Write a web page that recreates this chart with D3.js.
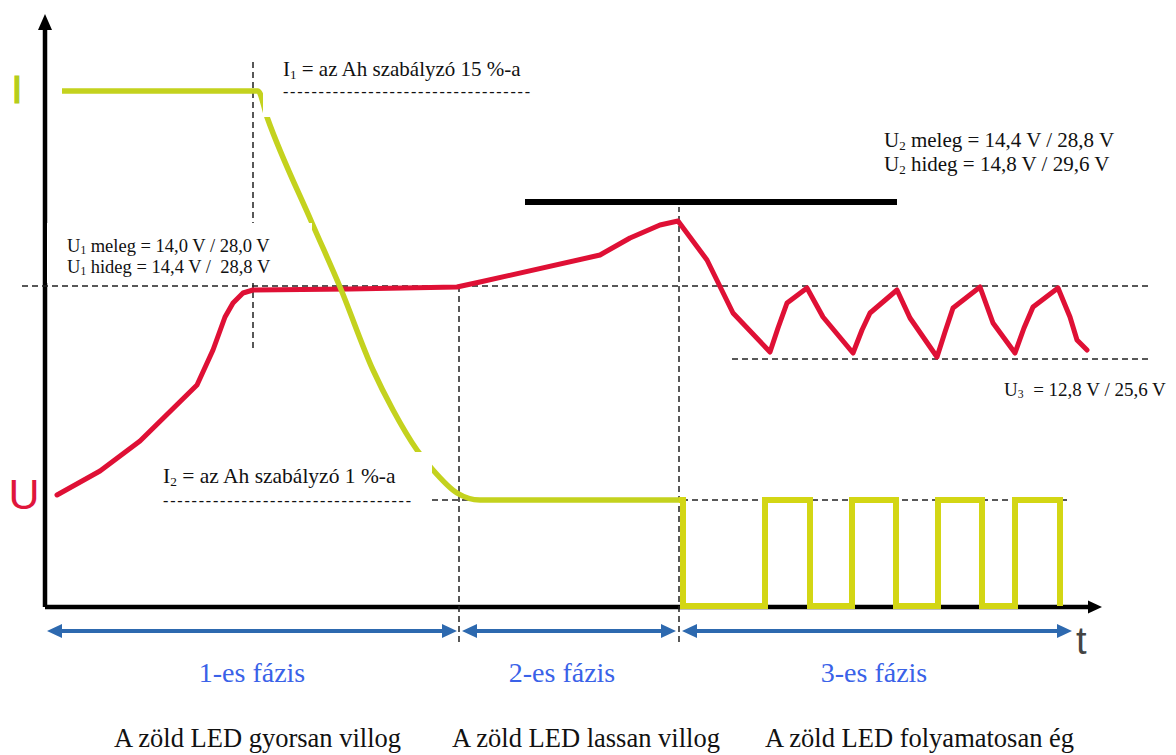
<!DOCTYPE html>
<html>
<head>
<meta charset="utf-8">
<script src="https://cdn.jsdelivr.net/npm/d3@7"></script>
<style>
  body { margin: 0; background: #fff; }
  svg { display: block; }
</style>
</head>
<body>
<div class="chart"></div>
<script>
// time and level are in arbitrary units (the chart has no ticks)
const uTime  = [3, 13.75, 23.75, 38, 42, 45, 47, 49.5, 52, 76.25, 103, 108.75, 138.75, 146.25, 153.75, 158.25,
                165.5, 172, 181.25, 183.25, 185.5, 190.5, 194.5, 202, 204.25, 206.25, 213, 216.25,
                223, 225, 227, 233.75, 237, 242.5, 244.75, 247, 253.25, 256.25, 258, 260.5];
const uLevel = [28, 34, 41.5, 55.5, 64.25, 72.5, 76, 78.5, 79.25, 79.5, 80, 81.25, 88, 92.25, 95.5, 96.5,
                86.75, 73.5, 63.75, 69.75, 76, 79.75, 72.5, 63.5, 69.25, 73.5, 79.25, 72.25,
                62.5, 68.75, 74.75, 80, 71, 63.5, 69.75, 75, 79.75, 72.5, 66.75, 64.25];

const iTime  = [4.25, 53.25, 55.5, 66.75, 73.75, 82, 87, 93, 97, 103, 108.75, 158.5];
const iLevel = [129, 129, 122.5, 96, 80, 59.25, 49.25, 39.25, 34.25, 28.5, 26.75, 26.75];

const pulseTime  = [158.5, 159.5, 180, 191.25, 201.75, 212.75, 223.25, 234.25, 242.5, 253.75];
const pulseLevel = [26.75, 0.25, 26.75, 0.25, 26.75, 0.25, 26.75, 0.25, 26.75, 0.25];

// reference levels
const levelU1 = 80.25, levelU2 = 101.25, levelU3 = 62, levelI2 = 26.75;

const phaseStart  = [0.5, 104.25, 159.25];
const phaseEnd    = [103, 157.75, 256.75];
const phaseCenter = [51.75, 129.25, 207.25];
const phaseNames  = ["1-es fázis", "2-es fázis", "3-es fázis"];
const ledStart    = [17.25, 101.75, 180];
const ledTexts    = ["A zöld LED gyorsan villog", "A zöld LED lassan villog", "A zöld LED folyamatosan ég"];

const width = 1176, height = 755;
const serif = "'Liberation Serif', 'Times New Roman', serif";
const sans = "'Liberation Sans', Arial, sans-serif";

const x = d3.scaleLinear().domain([0, 264]).range([45, 1101]);
const y = d3.scaleLinear().domain([0, 150]).range([607, 7]);

const svg = d3.select(".chart").append("svg")
    .attr("width", width)
    .attr("height", height);

const line = d3.line().x(d => x(d[0])).y(d => y(d[1]));

// axes with arrow heads
const xTip = 264.25, yTip = 148.25;
svg.append("path")
    .attr("d", line([[0, 0], [xTip - 3.5, 0]]))
    .attr("stroke", "#000").attr("stroke-width", 4.5).attr("fill", "none");
svg.append("path")
    .attr("d", `M${x(xTip)},${y(0)}L${x(xTip) - 14},${y(0) - 6.5}L${x(xTip) - 14},${y(0) + 6.5}Z`)
    .attr("fill", "#000");
svg.append("path")
    .attr("d", line([[0, 0], [0, yTip - 4]]))
    .attr("stroke", "#000").attr("stroke-width", 4.5).attr("fill", "none");
svg.append("path")
    .attr("d", `M${x(0)},${y(yTip)}L${x(0) - 7},${y(yTip) + 16}L${x(0) + 7},${y(yTip) + 16}Z`)
    .attr("fill", "#000");

// dashed guide lines
const hGuides = [[levelU1, -5.75, 275.75], [levelU3, 171.75, 275.75], [levelI2, 96.75, 255.5]];
const vGuides = [[52, 64.75, 137.25], [103.5, -8.75, 80.5], [158.5, -8.75, 100]];
svg.selectAll(".hguide").data(hGuides).enter().append("path")
    .attr("class", "hguide")
    .attr("d", d => line([[d[1], d[0]], [d[2], d[0]]]))
    .attr("stroke", "#222").attr("stroke-width", 1.5).attr("stroke-dasharray", "6,4").attr("fill", "none");
svg.selectAll(".vguide").data(vGuides).enter().append("path")
    .attr("class", "vguide")
    .attr("d", d => line([[d[0], d[1]], [d[0], d[2]]]))
    .attr("stroke", "#222").attr("stroke-width", 1.5).attr("stroke-dasharray", "6,4").attr("fill", "none");

// U2 bar
svg.append("path")
    .attr("d", line([[120, levelU2], [213, levelU2]]))
    .attr("stroke", "#000").attr("stroke-width", 6).attr("fill", "none");

// voltage curve
svg.append("path")
    .attr("d", line(uTime.map((t, i) => [t, uLevel[i]])))
    .attr("stroke", "#df1035").attr("stroke-width", 5)
    .attr("stroke-linejoin", "round").attr("stroke-linecap", "round").attr("fill", "none");

// current curve
svg.append("path")
    .attr("d", line.curve(d3.curveMonotoneX)(iTime.map((t, i) => [t, iLevel[i]])))
    .attr("stroke", "#c4d21e").attr("stroke-width", 5.5)
    .attr("stroke-linejoin", "round").attr("fill", "none");

// pulses in phase 3
svg.append("path")
    .attr("d", line.curve(d3.curveStepAfter)(pulseTime.map((t, i) => [t, pulseLevel[i]])))
    .attr("stroke", "#d3d614").attr("stroke-width", 6).attr("fill", "none");
line.curve(d3.curveLinear);

// white boxes behind the notes
const boxes = [[263, 58, 277, 59], [47, 223, 265, 60], [150, 452, 282, 63]];
svg.selectAll(".box").data(boxes).enter().append("rect")
    .attr("class", "box")
    .attr("x", d => d[0]).attr("y", d => d[1])
    .attr("width", d => d[2]).attr("height", d => d[3])
    .attr("fill", "#fff");

// notes with subscripts
function note(px, py, size, main, sub, rest) {
    const t = svg.append("text")
        .attr("x", px).attr("y", py)
        .attr("font-family", serif).attr("font-size", size)
        .attr("fill", "#111")
        .style("white-space", "pre");
    t.append("tspan").text(main);
    t.append("tspan").attr("font-size", size * 0.62).attr("dy", size * 0.12).text(sub);
    t.append("tspan").attr("dy", -size * 0.12).text(rest);
}
function dashes(px, py, w) {
    svg.append("text")
        .attr("x", px).attr("y", py)
        .attr("font-family", serif).attr("font-size", 16)
        .attr("textLength", w).attr("lengthAdjust", "spacing")
        .attr("fill", "#111")
        .text("-".repeat(35));
}

note(283, 76, 21, "I", "1", " = az Ah szabályzó 15 %-a");
dashes(283, 97, 247);
note(67, 252, 18.5, "U", "1", " meleg = 14,0 V / 28,0 V");
note(67, 273, 18.5, "U", "1", " hideg = 14,4 V /  28,8 V");
note(884, 147, 21, "U", "2", " meleg = 14,4 V / 28,8 V");
note(884, 171, 21, "U", "2", " hideg = 14,8 V / 29,6 V");
note(1004, 396, 19, "U", "3", "  = 12,8 V / 25,6 V");
note(163, 483, 21.5, "I", "2", " = az Ah szabályzó 1 %-a");
dashes(163, 506, 248);

// axis letters
svg.append("text")
    .attr("x", 17).attr("y", 103)
    .attr("text-anchor", "middle")
    .attr("font-family", sans).attr("font-size", 39)
    .attr("fill", "#b5cd1c").attr("stroke", "#b5cd1c").attr("stroke-width", 1.2)
    .text("I");
svg.append("text")
    .attr("x", 24).attr("y", 509)
    .attr("text-anchor", "middle")
    .attr("font-family", sans).attr("font-size", 43)
    .attr("fill", "#e0163c")
    .text("U");
svg.append("text")
    .attr("x", 1076).attr("y", 654)
    .attr("font-family", sans).attr("font-size", 38)
    .attr("fill", "#444")
    .text("t");

// phase arrows
const arrowY = y(-6);
phaseStart.forEach((s, i) => {
    const x0 = x(s), x1 = x(phaseEnd[i]);
    svg.append("line")
        .attr("x1", x0 + 12).attr("x2", x1 - 12)
        .attr("y1", arrowY).attr("y2", arrowY)
        .attr("stroke", "#2d69af").attr("stroke-width", 4);
    svg.append("path")
        .attr("d", `M${x0},${arrowY}L${x0 + 15},${arrowY - 7}L${x0 + 15},${arrowY + 7}Z`)
        .attr("fill", "#2d69af");
    svg.append("path")
        .attr("d", `M${x1},${arrowY}L${x1 - 15},${arrowY - 7}L${x1 - 15},${arrowY + 7}Z`)
        .attr("fill", "#2d69af");
});

svg.selectAll(".phase").data(phaseNames).enter().append("text")
    .attr("class", "phase")
    .attr("x", (d, i) => x(phaseCenter[i]))
    .attr("y", 682)
    .attr("text-anchor", "middle")
    .attr("font-family", serif).attr("font-size", 28)
    .attr("fill", "#3a62e8")
    .text(d => d);

svg.selectAll(".led").data(ledTexts).enter().append("text")
    .attr("class", "led")
    .attr("x", (d, i) => x(ledStart[i]))
    .attr("y", 747)
    .attr("font-family", serif).attr("font-size", 26.5)
    .attr("fill", "#111")
    .text(d => d);
</script>
</body>
</html>
